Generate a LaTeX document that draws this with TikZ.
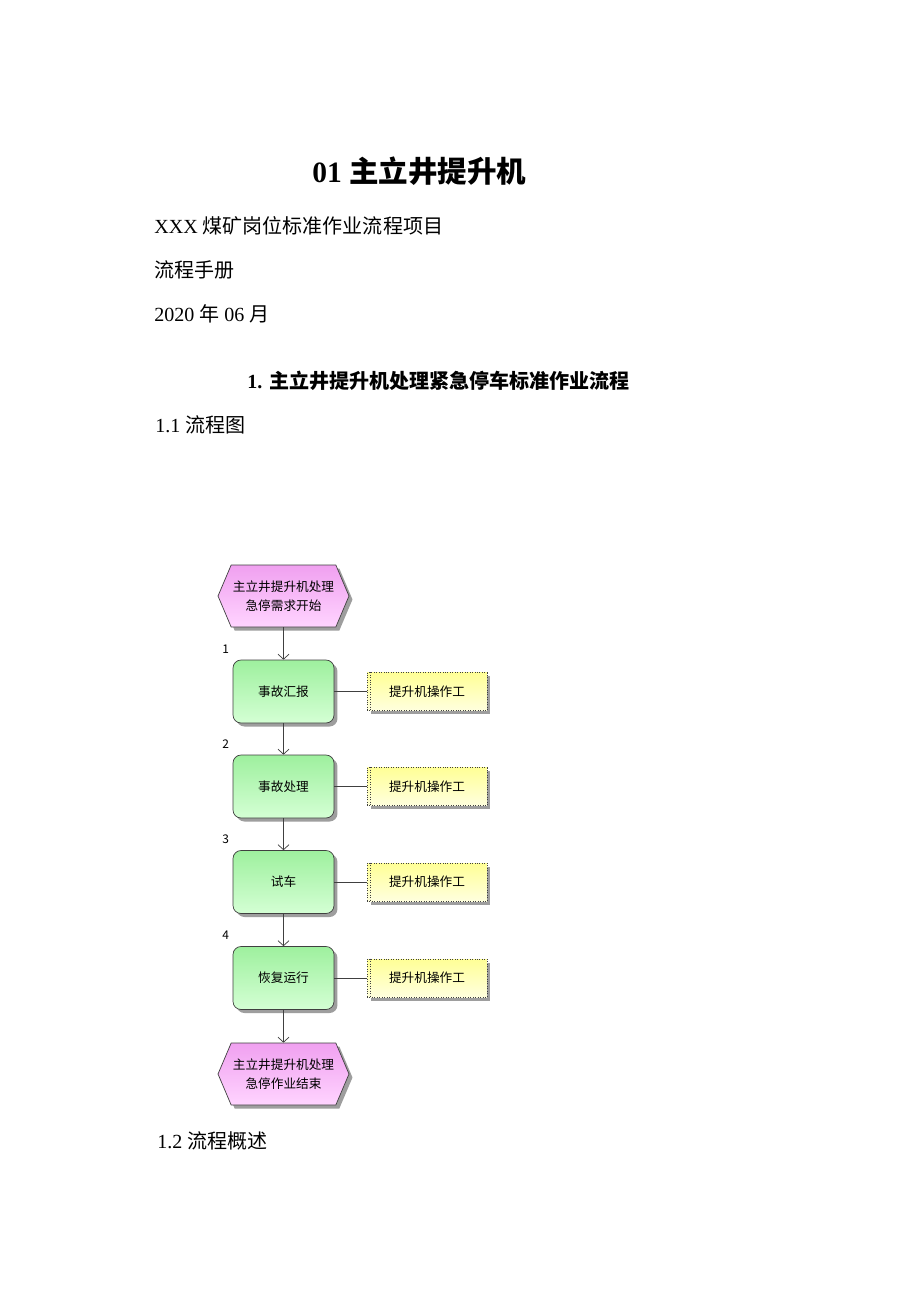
\documentclass[tikz,border=0pt]{standalone}
\usepackage{fontspec}
\setmainfont{Liberation Serif}
\newfontfamily\cjk{Noto Sans CJK SC}
\usetikzlibrary{shapes.symbols,shadows,arrows.meta}
\definecolor{pinktop}{RGB}{240,160,240}
\definecolor{pinkbot}{RGB}{255,212,255}
\definecolor{greentop}{RGB}{158,240,158}
\definecolor{greenbot}{RGB}{212,255,212}
\definecolor{yellowtop}{RGB}{255,255,150}
\definecolor{yellowbot}{RGB}{255,255,222}
\def\chartfont{\cjk\fontsize{7.2}{10.8}\selectfont}
\def\bodyfont{\fontsize{11.4}{14}\selectfont}
\tikzset{
	flatshadow/.style={drop shadow={shadow xshift=0.07cm, shadow yshift=-0.07cm, fill=black!38, opacity=1}},
	startend/.style={signal, signal to=west and east, signal pointer angle=134, draw=black!75,
		top color=pinktop, bottom color=pinkbot, minimum width=2.62cm, minimum height=1.24cm,
		inner sep=0pt, align=center, font=\chartfont, flatshadow},
	task/.style={rectangle, rounded corners=0.16cm, draw=black!75, top color=greentop, bottom color=greenbot,
		minimum width=2.02cm, minimum height=1.26cm, inner sep=0pt, font=\chartfont, flatshadow},
	role/.style={rectangle, draw=black!75, densely dotted, top color=yellowtop, bottom color=yellowbot,
		minimum width=2.4cm, minimum height=0.76cm, inner sep=0pt, font=\chartfont, flatshadow},
	num/.style={inner sep=0pt, font=\cjk\fontsize{6.8}{8}\selectfont},
	flow/.style={draw=black!75, -{Straight Barb[length=0.1cm, width=0.22cm]}},
	link/.style={draw=black!75},
	txt/.style={anchor=base west, inner sep=0pt, font=\bodyfont}
}

\begin{document}
\begin{tikzpicture}[x=0.02cm, y=-0.02cm]
	%%%%% START %%%%%
	
	\useasboundingbox[fill=white] (0, 0) rectangle (920, 1302);
	
	% page text
	\node[txt, font=\fontsize{16.8}{20}\selectfont\bfseries] (title) at (312, 182) {01 {\cjk 主立井提升机}};
	\node[txt] (project) at (154, 233) {XXX {\cjk 煤矿岗位标准作业流程项目}};
	\node[txt] (manual) at (154, 277) {{\cjk 流程手册}};
	\node[txt] (date) at (154, 321.5) {2020 {\cjk 年} 06 {\cjk 月}};
	\node[txt, font=\bodyfont\bfseries] (heading) at (247, 388) {1. {\cjk 主立井提升机处理紧急停车标准作业流程}};
	\node[txt] (sec1) at (155, 432) {1.1 {\cjk 流程图}};
	\node[txt] (sec2) at (157, 1148) {1.2 {\cjk 流程概述}};
	
	% flow chart
	\node[startend] (start) at (283.5, 596) {主立井提升机处理\\急停需求开始};
	
	\node[task] (b1) at (283.5, 691.5) {事故汇报};
	\node[task] (b2) at (283.5, 786.5) {事故处理};
	\node[task] (b3) at (283.5, 882) {试车};
	\node[task] (b4) at (283.5, 978) {恢复运行};
	
	\node[startend] (end) at (283.5, 1074) {主立井提升机处理\\急停作业结束};
	
	\foreach \i/\y in {1/691.5, 2/786.5, 3/882, 4/978}{
		\node[role] (r\i) at (427, \y) {提升机操作工};
		\draw[black!75, densely dotted] ([xshift=0.07cm]r\i.north west) -- ([xshift=0.07cm]r\i.south west);
		\draw[link] (b\i.east) -- (r\i.west);
		\node[num] (n\i) at ([shift={(-7, -10.5)}]b\i.north west) {\i};
	}
	
	\draw[flow] (start.south) -- (b1.north);
	\draw[flow] (b1.south) -- (b2.north);
	\draw[flow] (b2.south) -- (b3.north);
	\draw[flow] (b3.south) -- (b4.north);
	\draw[flow] (b4.south) -- (end.north);
	
	%%%%% END %%%%%
\end{tikzpicture}
\end{document}
